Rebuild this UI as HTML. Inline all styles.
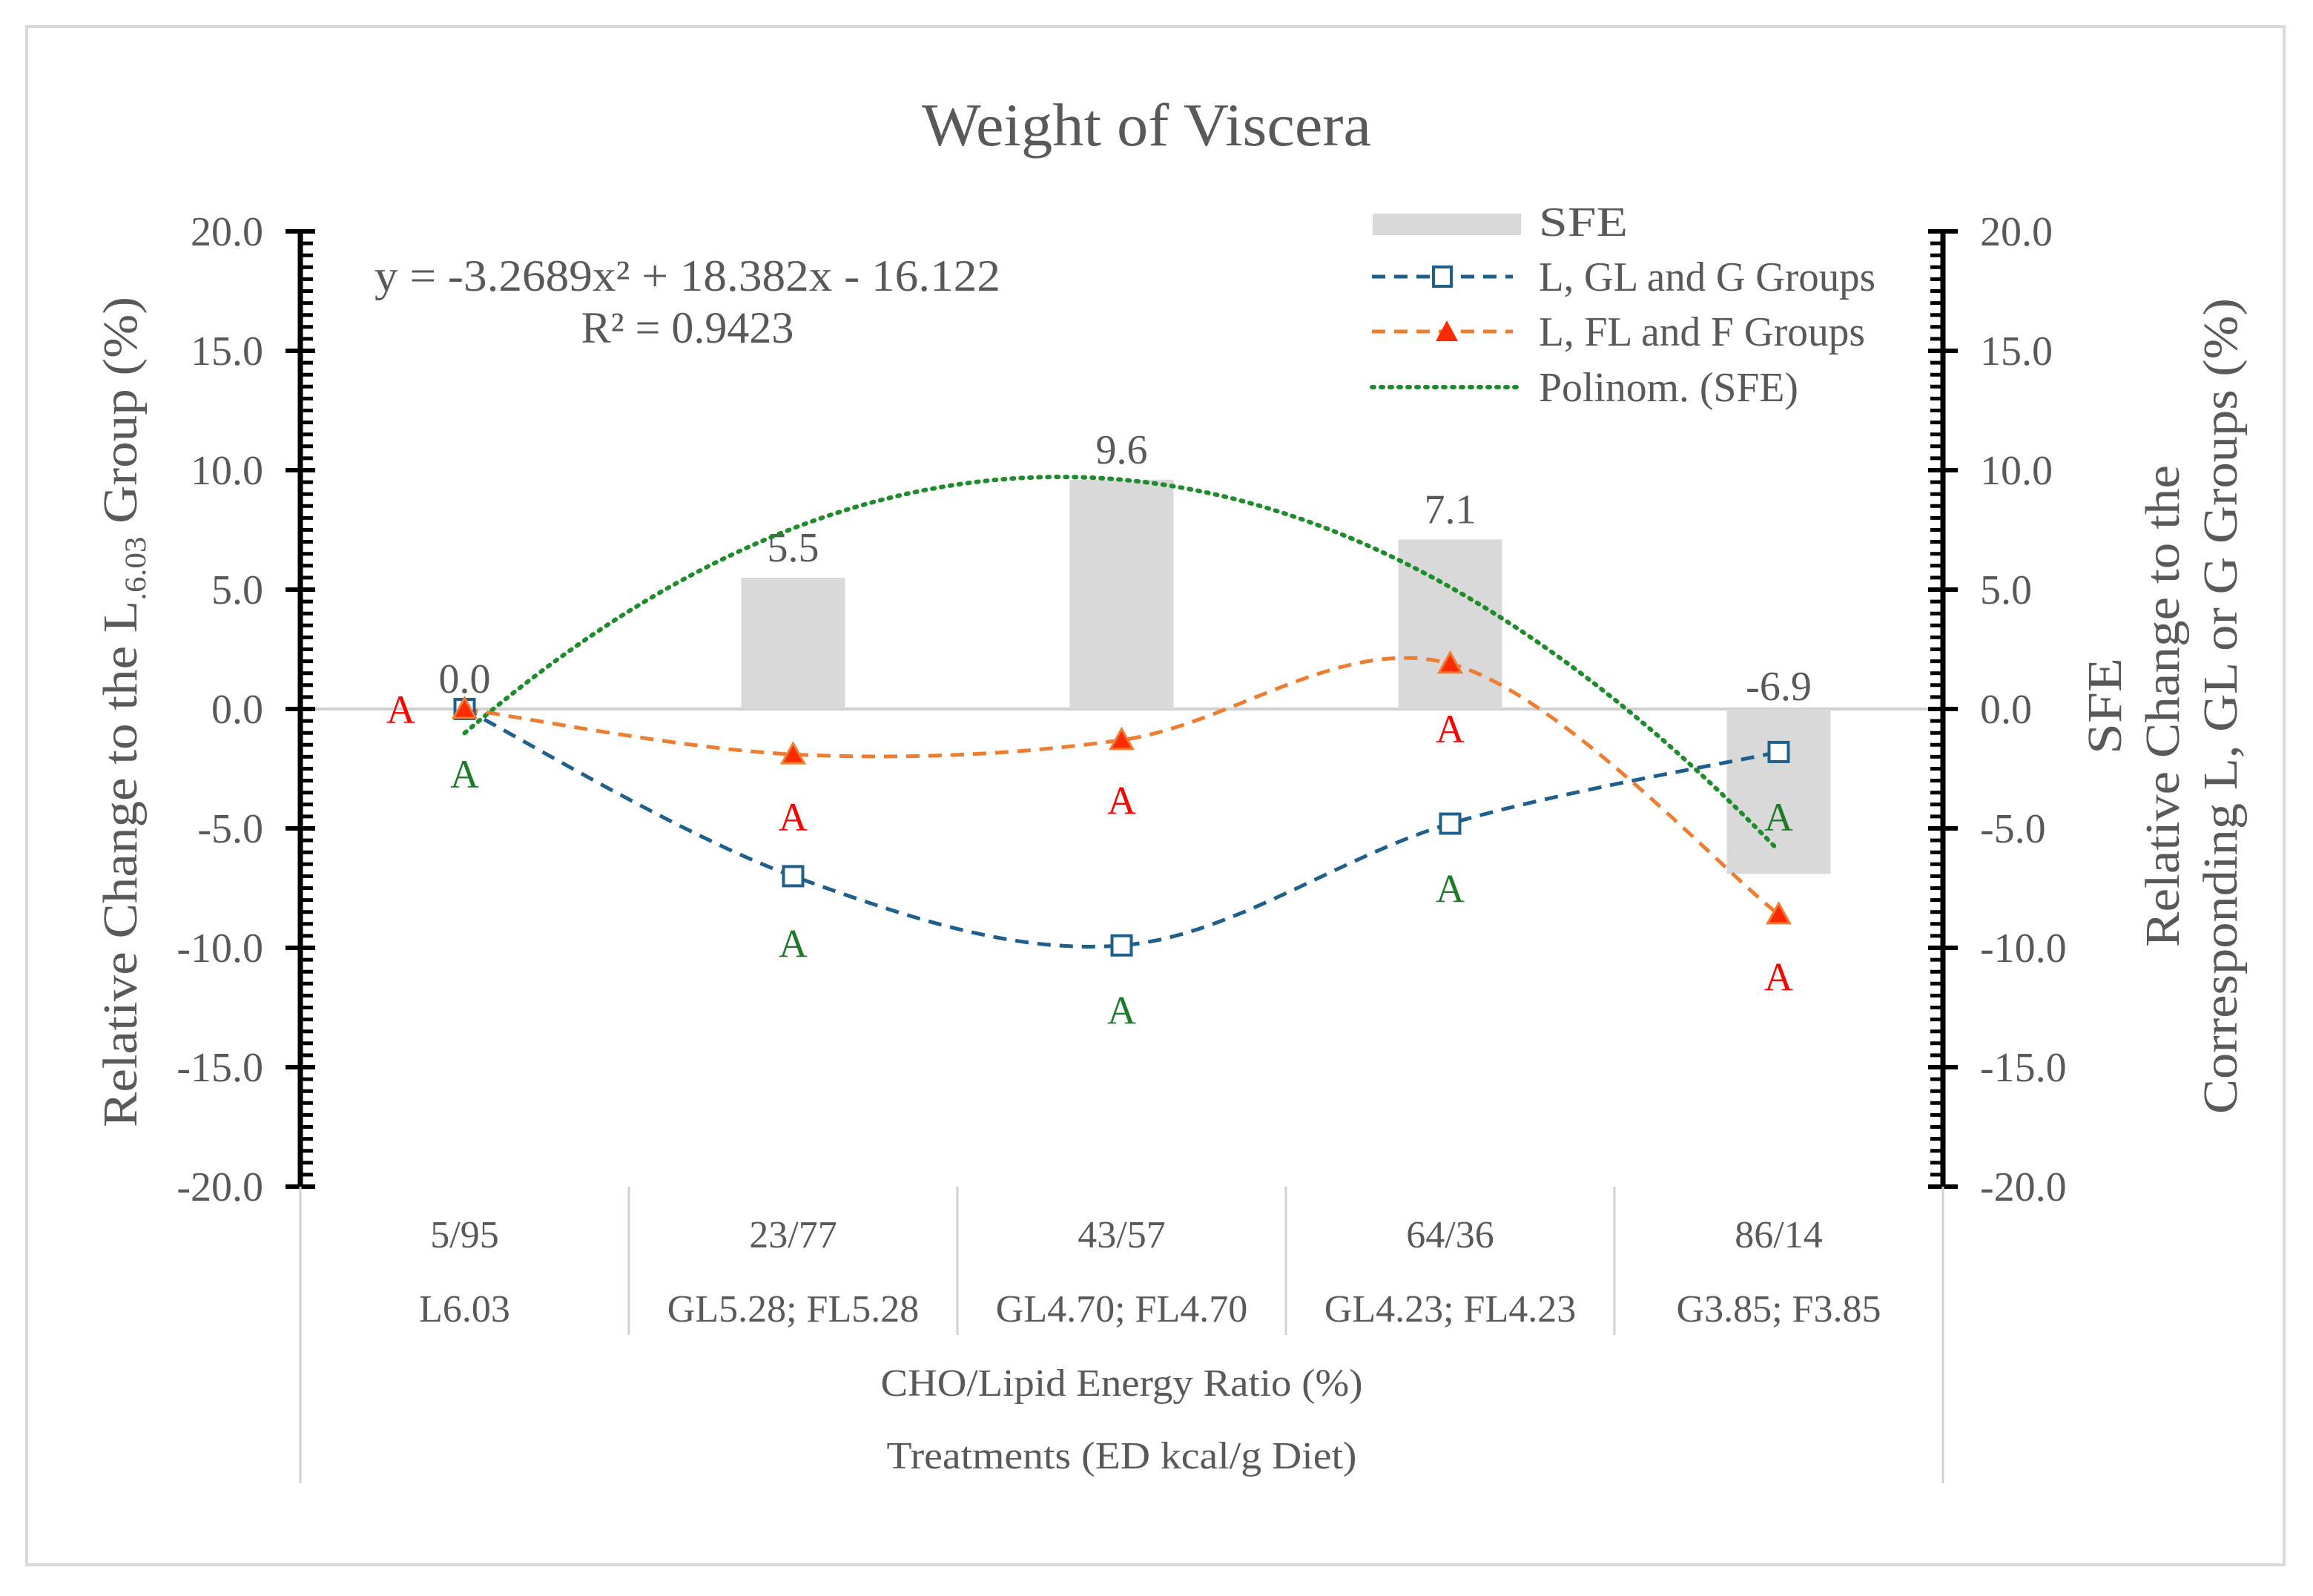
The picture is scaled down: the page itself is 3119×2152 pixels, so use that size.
<!DOCTYPE html>
<html><head><meta charset="utf-8"><style>
html,body{margin:0;padding:0;background:#fff}
svg{display:block}
text{font-family:"Liberation Serif",serif;fill:#595959}
</style></head><body>
<svg id="chart" width="3119" height="2152" viewBox="0 0 3119 2152" xmlns="http://www.w3.org/2000/svg">
<rect x="36" y="36" width="3044" height="2074" fill="#fff" stroke="#d9d9d9" stroke-width="4"/>
<text x="1546" y="196" font-size="82" text-anchor="middle" textLength="606" lengthAdjust="spacingAndGlyphs">Weight of Viscera</text>
<g id="plot"></g>
</svg>
<script>
const categories = ["5/95","23/77","43/57","64/36","86/14"];
const treatments = ["L6.03","GL5.28; FL5.28","GL4.70; FL4.70","GL4.23; FL4.23","G3.85; F3.85"];
const sfe = [0.0, 5.5, 9.6, 7.1, -6.9];
const sfeLabels = ["0.0","5.5","9.6","7.1","-6.9"];
const glSeries = [0.0, -7.0, -9.9, -4.8, -1.8];
const flSeries = [0.0, -1.9, -1.3, 1.9, -8.6];
const polyCoef = [-3.2689, 18.382, -16.122];
const redLetterY = [0.0, -4.5, -3.8, -0.8, -11.2];
const greenLetterY = [-2.7, -9.8, -12.6, -7.5, -4.5];
const yTicks = [20,15,10,5,0,-5,-10,-15,-20];

const NS="http://www.w3.org/2000/svg";
const g=document.getElementById('plot');
const X0=405, X1=2620, Y20=312, Yn20=1600;
const catW=(X1-X0)/categories.length;
const xs=i=>X0+catW*(i+0.5);
const ys=v=>Y20+(20-v)*(Yn20-Y20)/40;
function el(tag,attrs,parent){const e=document.createElementNS(NS,tag);for(const k in attrs)e.setAttribute(k,attrs[k]);(parent||g).appendChild(e);return e;}
function txt(s,attrs){const e=el('text',attrs);e.textContent=s;return e;}

let z=el('line',{x1:X0,x2:X1,y1:ys(0),y2:ys(0),stroke:'#d0d0d0','stroke-width':4});



sfe.forEach((v,i)=>{
  const bw=140;
  const r=el('rect',{x:xs(i)-bw/2,y:Math.min(ys(v),ys(0)),width:bw,height:Math.abs(ys(v)-ys(0)),fill:'#d9d9d9'});
  
  
  const labY = v>=0 ? ys(v)-22 : ys(0)-12;
  const t=txt(sfeLabels[i],{x:xs(i),y:labY,'font-size':56,'text-anchor':'middle',fill:'#404040'});
  
  
});

function smooth(pts){
  let d='M'+pts[0][0]+','+pts[0][1];
  for(let i=0;i<pts.length-1;i++){
    const p0=pts[Math.max(i-1,0)],p1=pts[i],p2=pts[i+1],p3=pts[Math.min(i+2,pts.length-1)];
    const t=1/6;
    d+=' C'+(p1[0]+(p2[0]-p0[0])*t)+','+(p1[1]+(p2[1]-p0[1])*t)+' '+(p2[0]-(p3[0]-p1[0])*t)+','+(p2[1]-(p3[1]-p1[1])*t)+' '+p2[0]+','+p2[1];
  }
  return d;
}
const pp=[];
for(let k=0;k<=80;k++){const x=1+4*k/80;const v=polyCoef[0]*x*x+polyCoef[1]*x+polyCoef[2];pp.push([X0+catW*(x-0.5),ys(v)].join(','));}
let poly=el('polyline',{points:pp.join(' '),fill:'none',stroke:'#1e8c2a','stroke-width':6,'stroke-dasharray':'3 9','stroke-linecap':'round'});



let gl=el('path',{d:smooth(glSeries.map((v,i)=>[xs(i),ys(v)])),fill:'none',stroke:'#1f5f8b','stroke-width':5,'stroke-dasharray':'18 12'});


let fl=el('path',{d:smooth(flSeries.map((v,i)=>[xs(i),ys(v)])),fill:'none',stroke:'#ed7d31','stroke-width':5,'stroke-dasharray':'18 12'});



glSeries.forEach((v,i)=>{
  const m=el('rect',{x:xs(i)-13,y:ys(v)-13,width:26,height:26,fill:'#fff',stroke:'#1f5f8b','stroke-width':4});
  
  
});
flSeries.forEach((v,i)=>{
  const x=xs(i),y=ys(v);
  const m=el('polygon',{points:`${x},${y-15} ${x-15},${y+12} ${x+15},${y+12}`,fill:'#ff2a00',stroke:'#ed7d31','stroke-width':3});
  
  
});
redLetterY.forEach((v,i)=>{
  const x = i===0 ? xs(0)-86 : xs(i);
  const t=txt('A',{x:x,y:ys(v)+19,'font-size':54,'text-anchor':'middle',style:'fill:#ff0000'});
  
  
});
greenLetterY.forEach((v,i)=>{
  const t=txt('A',{x:xs(i),y:ys(v)+19,'font-size':54,'text-anchor':'middle',style:'fill:#1e7b2a'});
  
  
});

function axis(x,side){
  const a=el('line',{x1:x,x2:x,y1:Y20,y2:Yn20,stroke:'#000','stroke-width':7});
  
  
  for(let v=20;v>=-20;v-=0.5){
    const major=Math.abs(v%5)<1e-9;
    const y=ys(v);
    if(major) el('line',{x1:x-20,x2:x+20,y1:y,y2:y,stroke:'#000','stroke-width':6});
    else el('line',{x1:side==='left'?x:x-17,x2:side==='left'?x+17:x,y1:y,y2:y,stroke:'#000','stroke-width':5});
  }
  yTicks.forEach(v=>{
    const t=txt(v.toFixed(1),{x:side==='left'?x-50:x+50,y:ys(v)+19,'font-size':56,'text-anchor':side==='left'?'end':'start'});
    
    
  });
}
axis(X0,'left');axis(X1,'right');

for(let i=0;i<=categories.length;i++){
  const x=X0+catW*i;
  const outer=(i===0||i===categories.length);
  el('line',{x1:x,x2:x,y1:1600,y2:outer?2000:1800,stroke:'#d0d0d0','stroke-width':3});
}
categories.forEach((c,i)=>{
  const t=txt(c,{x:xs(i),y:1682,'font-size':52,'text-anchor':'middle'});
  
  
  const t2=txt(treatments[i],{x:xs(i),y:1782,'font-size':52,'text-anchor':'middle'});
  
  
});
let xt1=txt('CHO/Lipid Energy Ratio (%)',{x:(X0+X1)/2,y:1882,'font-size':52,'text-anchor':'middle',textLength:650,lengthAdjust:'spacingAndGlyphs'});


let xt2=txt('Treatments (ED kcal/g Diet)',{x:(X0+X1)/2,y:1980,'font-size':52,'text-anchor':'middle',textLength:634,lengthAdjust:'spacingAndGlyphs'});



let lt=el('text',{transform:'translate(184,960) rotate(-90)','font-size':66,'text-anchor':'middle',textLength:1120,lengthAdjust:'spacingAndGlyphs'});
lt.innerHTML='Relative Change to the L<tspan font-size="40" dy="12">.6.03</tspan><tspan dy="-12"> Group (%)</tspan>';


[['SFE',2860,130],['Relative Change to the',2938,650],['Corresponding L, GL or G Groups (%)',3016,1100]].forEach(([s,x,L])=>{
  const t=txt(s,{transform:`translate(${x},952) rotate(-90)`,'font-size':66,'text-anchor':'middle',textLength:L,lengthAdjust:'spacingAndGlyphs'});
  
  
});

let eq1=txt('y = -3.2689x² + 18.382x - 16.122',{x:927,y:392,'font-size':60,'text-anchor':'middle',textLength:844,lengthAdjust:'spacingAndGlyphs'});


let eq2=txt('R² = 0.9423',{x:927,y:462,'font-size':60,'text-anchor':'middle'});



const lg=el('g',{});


el('rect',{x:1851,y:288,width:200,height:29,fill:'#d9d9d9'},lg);
el('line',{x1:1850,x2:2040,y1:373,y2:373,stroke:'#1f5f8b','stroke-width':5,'stroke-dasharray':'18 12'},lg);
el('rect',{x:1933,y:360,width:24,height:26,fill:'#fff',stroke:'#1f5f8b','stroke-width':4},lg);
el('line',{x1:1850,x2:2040,y1:447,y2:447,stroke:'#ed7d31','stroke-width':5,'stroke-dasharray':'18 12'},lg);
el('polygon',{points:'1951,432 1936,460 1966,460',fill:'#ff2a00'},lg);
el('line',{x1:1850,x2:2045,y1:522,y2:522,stroke:'#1e8c2a','stroke-width':6,'stroke-dasharray':'3 9','stroke-linecap':'round'},lg);
[['SFE',318,120],['L, GL and G Groups',392,454],['L, FL and F Groups',466,440],['Polinom. (SFE)',541,350]].forEach(([s,y,L])=>{
  const t=document.createElementNS(NS,'text');
  t.setAttribute('x',2075);t.setAttribute('y',y);t.setAttribute('font-size',56);
  t.setAttribute('textLength',L);t.setAttribute('lengthAdjust','spacingAndGlyphs');
  t.textContent=s;
  
  
  lg.appendChild(t);
});
</script>
</body></html>
